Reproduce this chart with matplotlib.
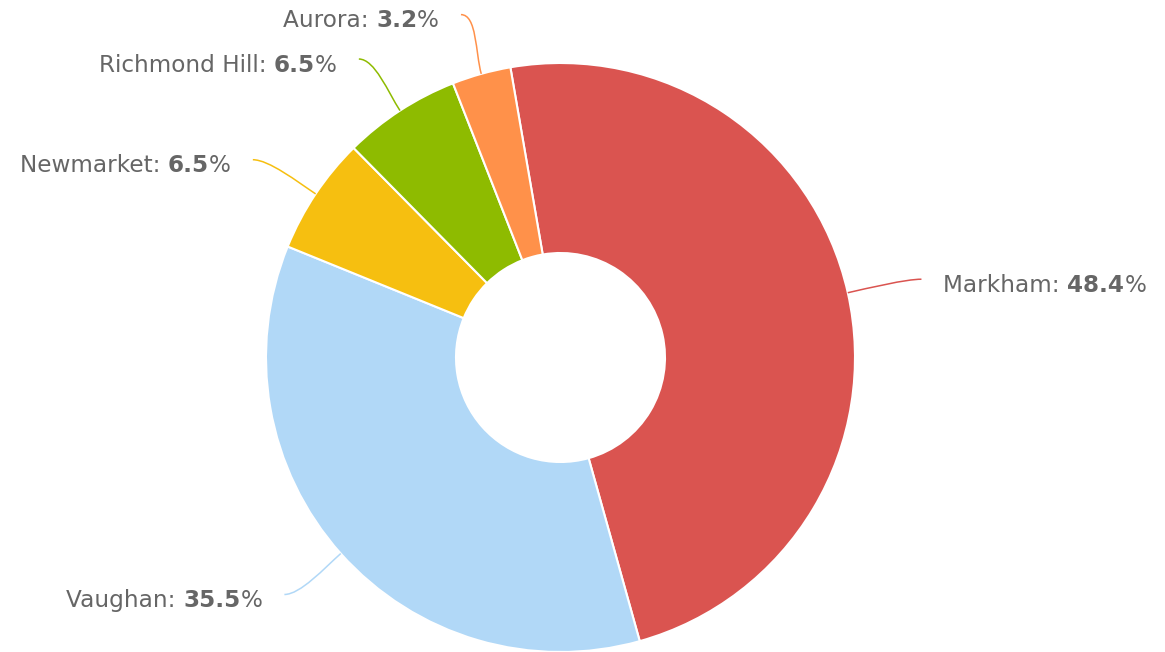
import matplotlib
matplotlib.use("Agg")
import matplotlib.pyplot as plt
import numpy as np
from matplotlib.offsetbox import TextArea, HPacker, AnnotationBbox
from matplotlib.path import Path
from matplotlib.patches import PathPatch

# data
cities = ["Markham", "Vaughan", "Newmarket", "Richmond Hill", "Aurora"]
counts = [15, 11, 2, 2, 1]
colors = ["#DA5450", "#B1D8F7", "#F6BF10", "#8EBB00", "#FF914A"]

W, H = 1165, 652
cx, cy = 560.5, 294.5
R = 294.5
hole = 104.5
label_rx, label_ry = 370, 356
start = 99.8
text_color = "#666666"
fs = 16.7

fig = plt.figure(figsize=(W / 100, H / 100), dpi=100)
ax = fig.add_axes([0, 0, 1, 1])
wedges, _ = ax.pie(
    counts, colors=colors, startangle=start, counterclock=False,
    radius=R, center=(cx, cy),
    wedgeprops=dict(width=R - hole, edgecolor="white", linewidth=1.5),
)
ax.set_xlim(0, W)
ax.set_ylim(0, H)
ax.set_aspect("equal")
ax.axis("off")

total = sum(counts)
for w, name, n, c in zip(wedges, cities, counts, colors):
    mid = np.deg2rad((w.theta1 + w.theta2) / 2)
    ux, uy = np.cos(mid), np.sin(mid)
    p0 = (cx + R * ux, cy + R * uy)
    end = (cx + label_rx * ux, cy + label_ry * uy)
    side = 1 if ux > 0 else -1
    # soft connector: leaves the slice radially, ends horizontal
    p1 = (p0[0] + 22 * ux, p0[1] + 22 * uy)
    p2 = (end[0] - side * 16, end[1])
    path = Path([p0, p1, p2, end], [Path.MOVETO, Path.CURVE4, Path.CURVE4, Path.CURVE4])
    ax.add_patch(PathPatch(path, fill=False, edgecolor=c, lw=1.1))

    pct = f"{100 * n / total:.1f}"
    reg = dict(color=text_color, fontsize=fs)
    bold = dict(color=text_color, fontsize=fs, fontweight="bold")
    box = HPacker(
        children=[TextArea(f"{name}: ", textprops=reg),
                  TextArea(pct, textprops=bold),
                  TextArea("%", textprops=reg)],
        align="baseline", pad=0, sep=0,
    )
    ab = AnnotationBbox(box, (end[0] + side * 22, end[1] - 6), frameon=False,
                        box_alignment=(0 if side > 0 else 1, 0.5), pad=0)
    ax.add_artist(ab)

fig.savefig("out.png", dpi=100)
